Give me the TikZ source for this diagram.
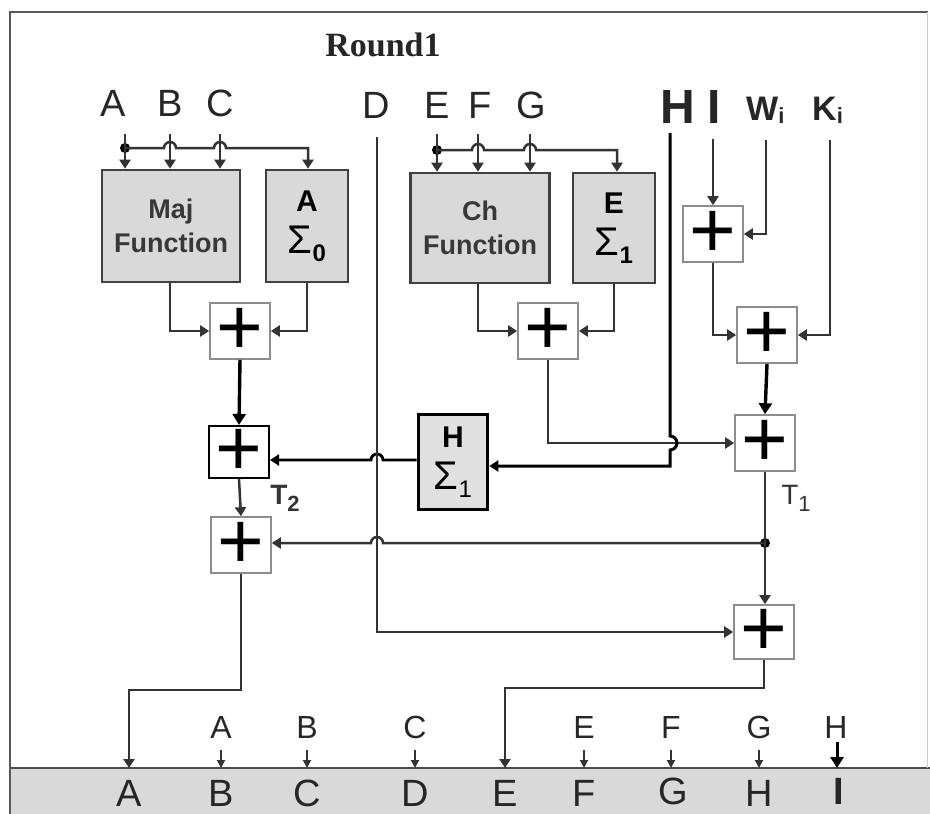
\documentclass[tikz,border=0pt]{standalone}
\usepackage{fontspec}
\setmainfont{Liberation Sans}
\newfontfamily\titlefont{Liberation Serif}
\usetikzlibrary{arrows.meta}
\begin{document}
\begin{tikzpicture}[x=1pt,y=-1pt,
  wire/.style={draw=black!80, line width=2.5pt},
  bold wire/.style={draw=black, line width=3.4pt},
  arr/.style={-{Triangle[length=9pt,width=11pt]}},
  barr/.style={-{Triangle[length=11pt,width=13pt]}},
  sarr/.style={-{Triangle[length=8pt,width=8pt]}},
  func/.style={draw=black!75, line width=2.6pt, fill=black!15, inner sep=0pt, align=center,
               font=\fontsize{27}{34}\selectfont\bfseries, text=black!78},
  sig/.style={func, font=\fontsize{30}{42}\selectfont\bfseries, text=black},
  adder/.style={draw=black!45, line width=1.6pt, fill=white, minimum width=60pt,
               minimum height=56pt, inner sep=0pt, font=\fontsize{80}{80}\selectfont},
  lab/.style={font=\fontsize{38}{38}\selectfont, text=black!85, inner sep=0pt},
  blab/.style={font=\fontsize{32}{32}\selectfont, text=black!85, inner sep=0pt},
  dot/.style={circle, fill=black, inner sep=0pt, minimum size=10pt}
]
\useasboundingbox (0,0) rectangle (930,814);
% frame
\fill[black!15] (10,768) rectangle (930,814);
\draw[black!70, line width=1.5pt] (10,768) -- (930,768);
\draw[black!65, line width=1.6pt] (10,814) -- (10,12) -- (928,12);
\draw[black!20, line width=1pt] (927,12) -- (927,768);
\node[font=\titlefont\fontsize{34}{34}\selectfont\bfseries, text=black!85] (title) at (383,45) {Round1};

% top labels
\node[lab] (lA) at (113,103) {A};
\node[lab] (lB) at (170,103) {B};
\node[lab] (lC) at (220,103) {C};
\node[lab] (lD) at (376,105) {D};
\node[lab] (lE) at (437,105) {E};
\node[lab] (lF) at (480,105) {F};
\node[lab] (lG) at (531,105) {G};
\node[lab, font=\fontsize{48}{48}\selectfont\bfseries] (lH) at (678,107) {H};
\node[lab, font=\fontsize{48}{48}\selectfont\bfseries] (lI) at (714,107) {I};
\node[lab, font=\fontsize{34}{34}\selectfont\bfseries, anchor=west] (lW) at (746,110) {W\raisebox{-3pt}{\fontsize{22}{22}\selectfont i}};
\node[lab, font=\fontsize{34}{34}\selectfont\bfseries, anchor=west] (lK) at (812,110) {K\raisebox{-3pt}{\fontsize{22}{22}\selectfont i}};

% function boxes
\node[func, minimum width=138pt, minimum height=112pt] (maj) at (171,226) {Maj\\Function};
\node[sig, minimum width=82pt, minimum height=112pt] (s0) at (307,226)
  {A\\{\mdseries\fontsize{40}{40}\selectfont Σ}\raisebox{-8pt}{\fontsize{24}{24}\selectfont 0}};
\node[func, minimum width=139pt, minimum height=110pt] (ch) at (480,228) {Ch\\Function};
\node[sig, minimum width=82pt, minimum height=110pt] (s1e) at (614,228)
  {E\\{\mdseries\fontsize{40}{40}\selectfont Σ}\raisebox{-8pt}{\fontsize{24}{24}\selectfont 1}};
\node[sig, draw=black, line width=3.6pt, fill=black!12, minimum width=69pt, minimum height=95pt] (s1h) at (453,462)
  {H\\{\mdseries\fontsize{40}{40}\selectfont Σ}\raisebox{-8pt}{\mdseries\fontsize{24}{24}\selectfont 1}};

% adders
\node[adder] (a1)  at (240,331) {+};
\node[adder, draw=black, line width=2pt, minimum height=52pt] (aT2) at (239,452) {+};
\node[adder] (aA)  at (241,545) {+};
\node[adder] (aCh) at (548,331) {+};
\node[adder] (aIW) at (713,234) {+};
\node[adder] (aK)  at (767,335) {+};
\node[adder] (aT1) at (765,443) {+};
\node[adder, minimum height=54pt] (aE)  at (764,632) {+};

\node[font=\fontsize{28}{28}\selectfont\bfseries, text=black!80] (t2) at (285,498) {T\raisebox{-7pt}{\fontsize{22}{22}\selectfont 2}};
\node[font=\fontsize{28}{28}\selectfont, text=black!80] (t1) at (796,498) {T\raisebox{-7pt}{\fontsize{22}{22}\selectfont 1}};

% inputs A B C
\coordinate (inA) at (125,134);
\coordinate (inB) at (170,134);
\coordinate (inC) at (220,134);
\node[dot] (dA) at (125,148) {};
\draw[wire, arr] (inA) -- (inA |- maj.north);
\draw[wire, arr] (inB) -- (inB |- maj.north);
\draw[wire, arr] (inC) -- (inC |- maj.north);
\draw[wire, arr] (dA.center) -- (164,148) arc (180:0:6pt) -- (214,148) arc (180:0:6pt) -- (308,148) -- (308,148 |- s0.north);

% inputs E F G
\coordinate (inE) at (437,134);
\coordinate (inF) at (478,134);
\coordinate (inG) at (530,134);
\node[dot] (dE) at (437,150) {};
\draw[wire, arr] (inE) -- (inE |- ch.north);
\draw[wire, arr] (inF) -- (inF |- ch.north);
\draw[wire, arr] (inG) -- (inG |- ch.north);
\draw[wire, arr] (dE.center) -- (472,150) arc (180:0:6pt) -- (524,150) arc (180:0:6pt) -- (617,150) -- (617,150 |- s1e.north);

% function outputs to adders
\draw[wire, arr] (maj.south -| inB) -- (inB |- a1.west) -- (a1.west);
\draw[wire, arr] (s0.south) -- (s0.south |- a1.east) -- (a1.east);
\draw[wire, arr] (ch.south -| inF) -- (inF |- aCh.west) -- (aCh.west);
\draw[wire, arr] (s1e.south) -- (s1e.south |- aCh.east) -- (aCh.east);

% I, W, K
\coordinate (inI) at (713,139);
\coordinate (inW) at (766,140);
\coordinate (inK) at (830,140);
\draw[wire, arr] (inI) -- (aIW.north);
\draw[wire, arr] (inW) -- (inW |- aIW.east) -- (aIW.east);
\draw[wire, arr] (aIW.south) -- (aIW.south |- aK.west) -- (aK.west);
\draw[wire, arr] (inK) -- (inK |- aK.east) -- (aK.east);
\draw[bold wire, barr] (aK.south) -- (aT1.north);

% Ch adder to T1 adder
\draw[wire, arr] (aCh.south) -- (aCh.south |- aT1.west) -- (aT1.west);

% H line with hop, into H Sigma1
\coordinate (inH) at (670,133);
\draw[bold wire, line width=3pt, arr] (inH) -- (670,436) arc (90:-90:7pt) -- (670,466) -- (s1h.east |- 670,466);

% H Sigma1 to T2 adder
\coordinate (inD) at (377,137);
\draw[bold wire, line width=2.8pt, arr] (s1h.west |- 0,460) -- (383,460) arc (0:180:6pt) -- (aT2.east |- 0,460);

% left column
\draw[bold wire, barr] (a1.south) -- (aT2.north);
\draw[wire, arr] (aT2.south) -- (aA.north);

% T1 column
\node[dot] (dT1) at (765,543) {};
\draw[wire] (aT1.south) -- (dT1.center);
\draw[wire, arr] (dT1.center) -- (aE.north -| dT1);
\draw[wire, arr] (dT1.center) -- (383,543) arc (0:180:6pt) -- (aA.east |- dT1);

% D line
\draw[wire, arr] (inD) -- (377,632) -- (aE.west);

% outputs to bottom row
\node[lab] (oA) at (129,793) {A};
\node[lab] (oB) at (221,793) {B};
\node[lab] (oC) at (307,793) {C};
\node[lab] (oD) at (415,793) {D};
\node[lab] (oE) at (505,793) {E};
\node[lab] (oF) at (584,793) {F};
\node[lab] (oG) at (673,791) {G};
\node[lab] (oH) at (759,793) {H};
\node[lab, font=\fontsize{38}{38}\selectfont\bfseries] (oI) at (839,791) {I};

\draw[wire, arr] (aA.south) -- (241,690) -- (129,690) -- (129,768);
\draw[wire, arr] (aE.south) -- (764,688) -- (505,688) -- (505,768);

\node[blab] (pA) at (221,727) {A};
\node[blab] (pB) at (307,727) {B};
\node[blab] (pC) at (415,727) {C};
\node[blab] (pE) at (584,727) {E};
\node[blab] (pF) at (671,727) {F};
\node[blab] (pG) at (759,727) {G};
\node[blab] (pH) at (836,727) {H};
\foreach \n/\x in {pA/221,pB/307,pC/415,pE/584,pF/671,pG/759}{
  \draw[wire, line width=1.8pt, sarr] (\x,750) -- (\x,768);
}
\draw[bold wire, line width=3pt, barr] (837,742) -- (837,768);
\end{tikzpicture}
\end{document}
